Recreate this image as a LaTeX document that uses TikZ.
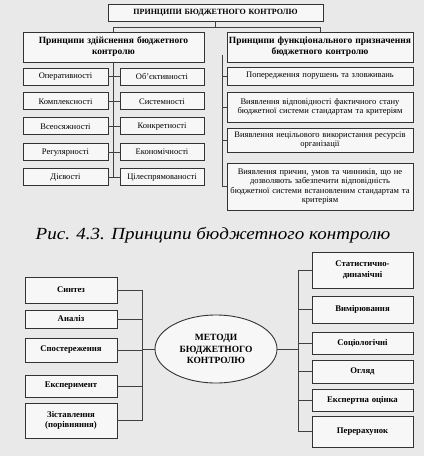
\documentclass[tikz,border=0pt]{standalone}
\usepackage{fontspec}
\setmainfont{Liberation Serif}
\newfontfamily\capfont[FakeStretch=1.12]{Liberation Serif}
\usetikzlibrary{positioning, shapes.geometric}

\begin{document}
\begin{tikzpicture}[x=1pt, y=-1pt,
    node distance=7pt,
    box/.style={draw=black!80, line width=0.9pt, fill=gray!6, inner sep=1pt, align=center, font=\fontsize{8.5}{9.5}\selectfont},
    hbox/.style={box, font=\fontsize{9.5}{11}\selectfont\bfseries},
    mbox/.style={box, font=\fontsize{8.7}{10.5}\selectfont\bfseries},
    link/.style={draw=black!75, line width=0.7pt},
]
\fill[gray!17] (0,0) rectangle (424,456);
\useasboundingbox (0,0) rectangle (424,456);

\node[box, font=\fontsize{8}{9}\selectfont\bfseries, text width=213pt, minimum height=17pt] (head) at (215.5,12.5) {ПРИНЦИПИ БЮДЖЕТНОГО КОНТРОЛЮ};
\node[hbox, text width=179pt, minimum height=30pt] (lhead) at (113.5,47) {Принципи здійснення бюджетного\\контролю};
\node[hbox, text width=184pt, minimum height=30pt] (rhead) at (320,47) {Принципи функціонального призначення\\бюджетного контролю};
\draw[link] (head.south) -- ++(0,6) coordinate (hj) -| (lhead.north);
\draw[link] (hj) -| (rhead.north);

\node[box, text width=83pt, minimum height=17pt] (a1) at (65.5,76.5) {Оперативності};
\node[box, text width=83pt, minimum height=17pt, below=of a1] (a2) {Комплексності};
\node[box, text width=83pt, minimum height=17pt, below=of a2] (a3) {Всеосяжності};
\node[box, text width=83pt, minimum height=17pt, below=8pt of a3] (a4) {Регулярності};
\node[box, text width=83pt, minimum height=17pt, below=of a4] (a5) {Дієвості};
\node[box, text width=82pt, minimum height=17pt] (b1) at (162,76.5) {Об'єктивності};
\node[box, text width=82pt, minimum height=17pt, below=of b1] (b2) {Системності};
\node[box, text width=82pt, minimum height=17pt, below=of b2] (b3) {Конкретності};
\node[box, text width=82pt, minimum height=17pt, below=8pt of b3] (b4) {Економічності};
\node[box, text width=82pt, minimum height=17pt, below=of b4] (b5) {Цілеспрямованості};
\draw[link] (lhead.south) -- (lhead.south |- a5.east);
\foreach \i in {1,...,5} \draw[link] (a\i.east) -- (b\i.west);

\node[box, text width=184pt, minimum height=18pt] (r1) at (320,76) {Попередження порушень та зловживань};
\node[box, text width=184pt, minimum height=30pt] (r2) at (320,107) {Виявлення відповідності фактичного стану\\бюджетної системи стандартам та критеріям};
\node[box, text width=184pt, minimum height=24pt] (r3) at (320,140) {Виявлення нецільового використання ресурсів\\організації};
\node[box, text width=184pt, minimum height=47pt] (r4) at (320,186.5) {Виявлення причин, умов та чинників, що не\\дозволяють забезпечити відповідність\\бюджетної системи встановленим стандартам та\\критеріям};
\coordinate (rtop) at (222,55);
\draw[link] (rtop) -- (rtop |- r4.west);
\foreach \i in {1,...,4} \draw[link] (rtop |- r\i.west) -- (r\i.west);

\node[font=\capfont\fontsize{17}{20}\selectfont\itshape] (cap) at (213,235) {Рис. 4.3. Принципи бюджетного контролю};

\node[ellipse, draw=black!80, line width=0.9pt, fill=gray!6, minimum width=122pt, minimum height=68pt, inner sep=0pt, align=center, font=\fontsize{9.5}{11.5}\selectfont\bfseries] (meth) at (216,349) {МЕТОДИ\\БЮДЖЕТНОГО\\КОНТРОЛЮ};

\node[mbox, text width=90pt, minimum height=26pt] (s1) at (71,290) {Синтез};
\node[mbox, text width=90pt, minimum height=18pt] (s2) at (71,319) {Аналіз};
\node[mbox, text width=90pt, minimum height=24pt] (s3) at (71,350) {Спостереження};
\node[mbox, text width=90pt, minimum height=22pt] (s4) at (71,386) {Експеримент};
\node[mbox, text width=90pt, minimum height=35pt] (s5) at (71,420.5) {Зіставлення\\(порівняння)};
\draw[link] (s1.east) -- ++(25,0) coordinate (ls) -- (ls |- s5.east) -- (s5.east);
\foreach \i in {2,3,4} \draw[link] (ls |- s\i.east) -- (s\i.east);
\draw[link] (ls |- meth.west) -- (meth.west);

\node[mbox, text width=99pt, minimum height=36pt] (m1) at (362.5,270) {Статистично-\\динамічні};
\node[mbox, text width=99pt, minimum height=27pt] (m2) at (362.5,309.5) {Вимірювання};
\node[mbox, text width=99pt, minimum height=22pt] (m3) at (362.5,343) {Соціологічні};
\node[mbox, text width=99pt, minimum height=23pt] (m4) at (362.5,371.5) {Огляд};
\node[mbox, text width=99pt, minimum height=22pt] (m5) at (362.5,400) {Експертна оцінка};
\node[mbox, text width=99pt, minimum height=31pt] (m6) at (362.5,431.5) {Перерахунок};
\draw[link] (m1.west) -- ++(-13,0) coordinate (rs) -- (rs |- m6.west) -- (m6.west);
\foreach \i in {2,...,5} \draw[link] (rs |- m\i.west) -- (m\i.west);
\draw[link] (rs |- meth.east) -- (meth.east);
\end{tikzpicture}
\end{document}
